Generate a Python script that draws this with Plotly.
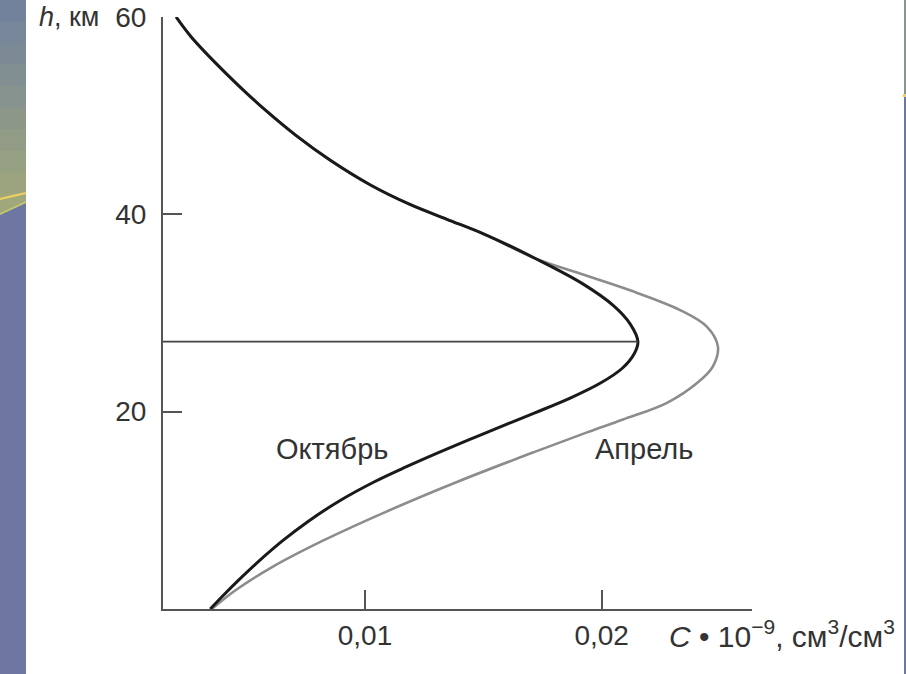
import plotly.graph_objects as go

# ---- data ----
h_october = [60.0, 58.0, 55.5, 53.0, 50.5, 48.0, 45.5, 43.0, 41.0, 39.5, 38.0, 35.5,
             33.0, 30.7, 28.9, 27.1, 25.9, 24.4, 22.9, 21.4, 19.9, 18.9, 17.4, 15.9,
             14.4, 12.9, 10.9, 8.9, 6.9, 4.9, 2.9, 1.4, 0.0]
c_october = [0.00202, 0.00265, 0.00362, 0.00468, 0.00582, 0.00708, 0.00852, 0.01021,
             0.01190, 0.01346, 0.01503, 0.01722, 0.01917, 0.02052, 0.02120, 0.02153,
             0.02138, 0.02087, 0.01995, 0.01869, 0.01720, 0.01616, 0.01464, 0.01315,
             0.01173, 0.01040, 0.00888, 0.00761, 0.00651, 0.00554, 0.00465, 0.00402,
             0.00346]

h_april = [60.0, 58.0, 55.5, 53.0, 50.5, 48.0, 45.5, 43.0, 41.0, 39.5, 38.0, 35.5,
           34.0, 32.3, 30.3, 28.6, 26.6, 24.6, 22.9, 20.9, 19.2, 17.9, 15.9, 12.9,
           9.9, 6.9, 4.2, 1.9, 0.0]
c_april = [0.00202, 0.00265, 0.00362, 0.00468, 0.00582, 0.00708, 0.00852, 0.01021,
           0.01190, 0.01346, 0.01503, 0.01722, 0.01908, 0.02120, 0.02331, 0.02445,
           0.02491, 0.02470, 0.02403, 0.02276, 0.02090, 0.01938, 0.01714, 0.01391,
           0.01093, 0.00820, 0.00604, 0.00453, 0.00353]

c_range = [0.001466, 0.02635]
h_range = [0, 60]
x_tickvals = [0.01, 0.02]
x_ticktext = ["0,01", "0,02"]
y_tickvals = [20, 40, 60]
y_ticktext = ["20", "40", "60"]
label_october = "Октябрь"
label_april = "Апрель"

# peak of the October curve (horizontal reference line)
i_peak = c_october.index(max(c_october))
h_peak = h_october[i_peak]
c_peak = c_october[i_peak]

FONT = "Liberation Sans, Arial, Helvetica, sans-serif"
FS = 28
TXT = "#333333"
AX = "#555555"

W, H = 906, 674
ML, MR, MT, MB = 163, 154, 17, 65
PW, PH = W - ML - MR, H - MT - MB


def px(x):
    return (x - ML) / PW


def py(y):
    return (H - MB - y) / PH


fig = go.Figure()

fig.add_trace(go.Scatter(x=c_april, y=h_april, mode="lines",
                         line=dict(color="#8c8c8c", width=2.6, shape="spline", smoothing=1.0),
                         hoverinfo="skip", showlegend=False))
fig.add_trace(go.Scatter(x=c_october, y=h_october, mode="lines",
                         line=dict(color="#1a1a1a", width=3, shape="spline", smoothing=1.0),
                         hoverinfo="skip", showlegend=False))
fig.add_trace(go.Scatter(x=[c_range[0], c_peak], y=[h_peak, h_peak], mode="lines",
                         line=dict(color="#444444", width=1.6),
                         hoverinfo="skip", showlegend=False))

# ---- slide background strips (decoration) ----
def hexmix(a, b, t):
    a = [int(a[i:i + 2], 16) for i in (1, 3, 5)]
    b = [int(b[i:i + 2], 16) for i in (1, 3, 5)]
    return "#" + "".join(f"{round(a[k] + (b[k] - a[k]) * t):02x}" for k in range(3))

shapes = []
n = 10
top_c, bot_c = "#6f809f", "#a3aa79"
for k in range(n):
    y0 = 215 * k / n
    y1 = 215 * (k + 1) / n + 1
    shapes.append(dict(type="rect", xref="paper", yref="paper",
                       x0=px(0), x1=px(26), y0=py(y1), y1=py(y0),
                       fillcolor=hexmix(top_c, bot_c, (k + 0.5) / n), line_width=0, layer="above"))
shapes.append(dict(type="path", xref="paper", yref="paper",
                   path=f"M {px(0)},{py(215)} L {px(26)},{py(203)} L {px(26)},{py(674)} L {px(0)},{py(674)} Z",
                   fillcolor="#6d77a1", line_width=0, layer="above"))
shapes.append(dict(type="line", xref="paper", yref="paper",
                   x0=px(0), y0=py(199), x1=px(26), y1=py(193),
                   line=dict(color="#f2d060", width=2), layer="above"))
shapes.append(dict(type="line", xref="paper", yref="paper",
                   x0=px(0), y0=py(214), x1=px(26), y1=py(202),
                   line=dict(color="#c8c870", width=1.5), layer="above"))
# right edge strip
shapes.append(dict(type="rect", xref="paper", yref="paper",
                   x0=px(904), x1=px(906), y0=py(674), y1=py(95),
                   fillcolor="#6d77a1", line_width=0, layer="above"))
shapes.append(dict(type="rect", xref="paper", yref="paper",
                   x0=px(904), x1=px(906), y0=py(95), y1=py(0),
                   fillcolor="#8a9590", line_width=0, layer="above"))
shapes.append(dict(type="rect", xref="paper", yref="paper",
                   x0=px(903), x1=px(906), y0=py(97), y1=py(94),
                   fillcolor="#f2d060", line_width=0, layer="above"))

annotations = [
    dict(x=0.00860, y=16.2, xref="x", yref="y", text=label_october, showarrow=False,
         font=dict(family=FONT, size=FS + 1, color=TXT)),
    dict(x=0.02179, y=16.2, xref="x", yref="y", text=label_april, showarrow=False,
         font=dict(family=FONT, size=FS + 1, color=TXT)),
    dict(x=px(101), y=py(17), xref="paper", yref="paper", xanchor="right", yanchor="middle",
         text="<i>h</i>, км", showarrow=False, font=dict(family=FONT, size=FS - 1, color=TXT)),
    dict(x=px(667), y=py(634), xref="paper", yref="paper", xanchor="left", yanchor="middle",
         text="<i>C</i> • 10<sup>−9</sup>, см<sup>3</sup>/см<sup>3</sup>", showarrow=False,
         font=dict(family=FONT, size=30, color=TXT)),
]

fig.update_layout(
    width=W, height=H,
    margin=dict(l=ML, r=MR, t=MT, b=MB, pad=0, autoexpand=False),
    paper_bgcolor="white", plot_bgcolor="white",
    showlegend=False,
    shapes=shapes,
    annotations=annotations,
    font=dict(family=FONT, size=FS, color=TXT),
)
fig.update_xaxes(range=c_range, showgrid=False, zeroline=False, automargin=False,
                 showline=True, linecolor=AX, linewidth=2,
                 ticks="inside", ticklen=19, tickwidth=2, tickcolor=AX,
                 tickvals=x_tickvals, ticktext=x_ticktext, ticklabelstandoff=0,
                 ticklabeloverflow="allow",
                 tickfont=dict(family=FONT, size=FS, color=TXT))
fig.update_yaxes(range=h_range, showgrid=False, zeroline=False, automargin=False,
                 showline=True, linecolor=AX, linewidth=2,
                 ticks="inside", ticklen=19, tickwidth=2, tickcolor=AX,
                 tickvals=y_tickvals, ticktext=y_ticktext, ticklabelstandoff=9,
                 ticklabeloverflow="allow",
                 tickfont=dict(family=FONT, size=FS, color=TXT))

fig.write_html("out.html", config={"displayModeBar": False},
               post_script="document.body.style.margin='0';")
